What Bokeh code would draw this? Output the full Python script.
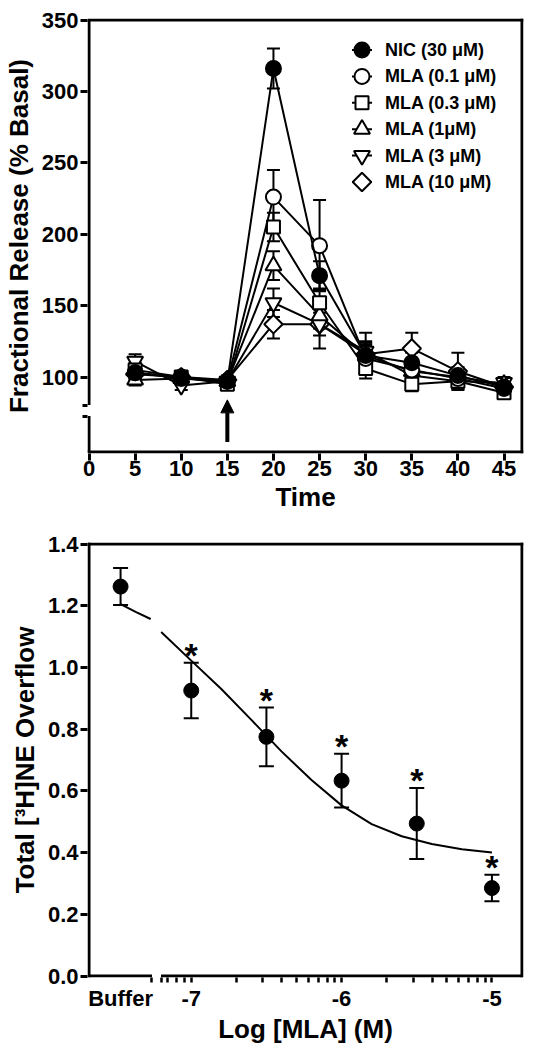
import numpy as np
from bokeh.plotting import figure
from bokeh.layouts import column
from bokeh.models import (Range1d, FixedTicker, Whisker, TeeHead, Arrow, NormalHead,
                          ColumnDataSource, NumeralTickFormatter)
from bokeh.core.properties import value
from bokeh.embed import file_html
from bokeh.resources import INLINE

FONT = "Liberation Sans"

# ---------------- top panel data ----------------
time_min = [5, 10, 15, 20, 25, 30, 35, 40, 45]
nic_30 = [103, 100, 97, 316, 171, 115, 110, 101, 93]
nic_30_err = [4, 3, 3, 14, 10, 10, 7, 6, 4]
mla_01 = [103, 99, 97, 226, 192, 113, 105, 99, 92]
mla_01_err = [4, 3, 3, 19, 32, 9, 6, 5, 4]
mla_03 = [105, 100, 95, 205, 152, 106, 95, 97, 89]
mla_03_err = [5, 4, 3, 10, 10, 7, 5, 5, 4]
mla_1 = [98, 99, 97, 178, 143, 115, 104, 100, 95]
mla_1_err = [4, 3, 3, 10, 9, 8, 5, 5, 4]
mla_3 = [111, 94, 97, 152, 137, 118, 101, 97, 96]
mla_3_err = [5, 3, 3, 10, 17, 13, 5, 5, 4]
mla_10 = [102, 100, 98, 137, 137, 116, 120, 104, 93]
mla_10_err = [4, 3, 3, 10, 8, 8, 11, 13, 4]
series_labels = ["NIC (30 μM)", "MLA (0.1 μM)", "MLA (0.3 μM)",
                 "MLA (1μM)", "MLA (3 μM)", "MLA (10 μM)"]
time_ticks = [0, 5, 10, 15, 20, 25, 30, 35, 40, 45]
release_ticks = [100, 150, 200, 250, 300, 350]
stim_time = 15

# ---------------- bottom panel data ----------------
buffer_pos = -7.47
log_mla = [-7.0, -6.5, -6.0, -5.5, -5.0]
buffer_mean = 1.262
buffer_err = 0.06
overflow_mean = [0.925, 0.775, 0.633, 0.494, 0.285]
overflow_err = [0.09, 0.095, 0.087, 0.115, 0.043]
fit_buffer_x = [-7.47, -7.37, -7.27]
fit_buffer_y = [1.205, 1.18, 1.157]
fit_x = [-7.2, -7.0, -6.8, -6.6, -6.4, -6.2, -6.0, -5.8, -5.6, -5.4, -5.2, -5.0]
fit_y = [1.115, 1.022, 0.93, 0.83, 0.728, 0.635, 0.553, 0.492, 0.453, 0.428, 0.411, 0.40]
overflow_ticks = [0.0, 0.2, 0.4, 0.6, 0.8, 1.0, 1.2, 1.4]
log_ticks = [-7, -6, -5]

FW, FH = 436, 435
LW = 3


def padded(lo, hi, px):
    s = (hi - lo) / (px - LW)
    return Range1d(lo - 1.5 * s, hi + 1.5 * s)


def style_axes(p):
    p.xgrid.visible = False
    p.ygrid.visible = False
    p.outline_line_color = None
    for ax in (p.xaxis[0], p.yaxis[0]):
        ax.axis_line_color = None
        ax.major_tick_out = 7
        ax.major_tick_in = 0
        ax.major_tick_line_width = 3
        ax.major_label_text_font = FONT
        ax.major_label_text_font_style = "bold"
        ax.major_label_text_font_size = "22px"
        ax.major_label_text_color = "black"
        ax.axis_label_text_font = FONT
        ax.axis_label_text_font_style = "bold"
        ax.axis_label_text_font_size = "26px"
        ax.axis_label_text_color = "black"
        ax.minor_tick_line_color = None
    p.xaxis[0].major_label_standoff = 0
    p.xaxis[0].axis_label_standoff = 3
    p.yaxis[0].major_label_standoff = 2
    p.yaxis[0].axis_label_standoff = 5


# ================= TOP =================
tx0, tx1 = 0, 46.95
ty0, ty1 = 47.5, 350
brk_lo, brk_hi = 72.7, 80.4

p1 = figure(frame_width=FW, frame_height=FH,
            x_range=padded(tx0, tx1, FW), y_range=padded(ty0, ty1, FH),
            output_backend="svg", toolbar_location=None,
            min_border_left=77, min_border_right=7, min_border_top=18, min_border_bottom=74,
            x_axis_label="Time", y_axis_label="Fractional Release (% Basal)")
style_axes(p1)
p1.xaxis[0].ticker = FixedTicker(ticks=time_ticks)
p1.yaxis[0].ticker = FixedTicker(ticks=release_ticks, minor_ticks=[brk_lo, brk_hi])
p1.yaxis[0].minor_tick_line_color = "black"
p1.yaxis[0].minor_tick_line_width = 3
p1.yaxis[0].minor_tick_out = 5
p1.yaxis[0].minor_tick_in = 0

# frame box with broken left axis
p1.segment(x0=[tx0, tx1, tx0], y0=[ty1, ty0, ty0], x1=[tx1, tx1, tx1], y1=[ty1, ty1, ty0],
           line_color="black", line_width=LW, line_cap="square")
p1.segment(x0=[tx0, tx0], y0=[brk_hi, ty0], x1=[tx0, tx0], y1=[ty1, brk_lo],
           line_color="black", line_width=LW, line_cap="butt")

means = [nic_30, mla_01, mla_03, mla_1, mla_3, mla_10]
errs = [nic_30_err, mla_01_err, mla_03_err, mla_1_err, mla_3_err, mla_10_err]
markers = ["circle", "circle", "square", "triangle", "inverted_triangle", "square"]
fills = ["black", "white", "white", "white", "white", "white"]
sizes = [15, 15, 13, 16, 16, 13]
angles = [0, 0, 0, 0, 0, np.pi / 4]

for i in reversed(range(6)):
    m, e = np.array(means[i]), np.array(errs[i])
    src = ColumnDataSource(dict(t=time_min, m=m, u=m + e, l=m - e))
    w = Whisker(base="t", upper="u", lower="l", source=src, line_width=2, line_color="black",
                upper_head=TeeHead(size=13, line_width=2, line_color="black"),
                lower_head=TeeHead(size=13, line_width=2, line_color="black"))
    p1.add_layout(w)
    p1.line("t", "m", source=src, line_color="black", line_width=2)
    p1.scatter("t", "m", source=src, marker=markers[i], size=sizes[i], angle=angles[i],
               fill_color=fills[i], line_color="black", line_width=2)

# legend drawn inside the frame (layout offsets in screen pixels from the box corner)
sx = (FW - LW) / (tx1 - tx0)
sy = (FH - LW) / (ty1 - ty0)
leg_mx, leg_my, leg_dy, leg_half, leg_tx = 273, 30, 26.4, 10, 296
for i in range(6):
    cy = ty1 - (leg_my + i * leg_dy) / sy
    cx = tx0 + leg_mx / sx
    p1.line([cx - leg_half / sx, cx + leg_half / sx], [cy, cy], line_color="black", line_width=2)
    p1.scatter([cx], [cy], marker=markers[i], size=sizes[i], angle=angles[i],
               fill_color=fills[i], line_color="black", line_width=2)
    p1.text([tx0 + leg_tx / sx], [cy], text=[series_labels[i]], text_align="left",
            text_baseline="middle", text_font=value(FONT), text_font_style="bold",
            text_font_size="18px", text_color="black")

p1.add_layout(Arrow(end=NormalHead(size=13, fill_color="black", line_color="black"),
                    x_start=stim_time, y_start=54.5, x_end=stim_time, y_end=84,
                    line_width=4, line_color="black"))

# ================= BOTTOM =================
bx0, bx1 = -7.68, -4.80
by0, by1 = 0.0, 1.4
gap_lo, gap_hi = -7.261, -7.201

p2 = figure(frame_width=FW, frame_height=FH,
            x_range=padded(bx0, bx1, FW), y_range=padded(by0, by1, FH),
            output_backend="svg", toolbar_location=None,
            min_border_left=77, min_border_right=7, min_border_top=15, min_border_bottom=56,
            x_axis_label="Log [MLA] (M)", y_axis_label="Total [³H]NE Overflow")
style_axes(p2)

minor = []
for dec in (-8, -7, -6):
    for k in range(2, 10):
        v = dec + np.log10(k)
        if gap_hi < v < -5:
            minor.append(float(v))
xax = p2.xaxis[0]
xax.ticker = FixedTicker(ticks=[buffer_pos] + log_ticks,
                         minor_ticks=[gap_lo, gap_hi] + [float(t) for t in log_ticks] + minor)
xax.major_label_overrides = {buffer_pos: "Buffer", -7: "-7", -6: "-6", -5: "-5"}
xax.major_tick_line_color = None
xax.major_tick_out = 0
xax.major_label_standoff = 3
xax.axis_label_standoff = 0
xax.minor_tick_line_color = "black"
xax.minor_tick_line_width = 2.5
xax.minor_tick_out = 5
xax.minor_tick_in = 0
p2.yaxis[0].ticker = FixedTicker(ticks=overflow_ticks)
p2.yaxis[0].formatter = NumeralTickFormatter(format="0.0")

p2.segment(x0=[bx0, bx1, bx0], y0=[by1, by0, by0], x1=[bx1, bx1, bx0], y1=[by1, by1, by1],
           line_color="black", line_width=LW, line_cap="square")
p2.segment(x0=[bx0, gap_hi], y0=[by0, by0], x1=[gap_lo, bx1], y1=[by0, by0],
           line_color="black", line_width=LW, line_cap="butt")

xs = [buffer_pos] + log_mla
ms = np.array([buffer_mean] + overflow_mean)
es = np.array([buffer_err] + overflow_err)
src2 = ColumnDataSource(dict(x=xs, m=ms, u=ms + es, l=ms - es))
p2.add_layout(Whisker(base="x", upper="u", lower="l", source=src2, line_width=2,
                      line_color="black",
                      upper_head=TeeHead(size=15, line_width=2, line_color="black"),
                      lower_head=TeeHead(size=15, line_width=2, line_color="black")))
p2.line(fit_buffer_x, fit_buffer_y, line_color="black", line_width=2)
p2.line(fit_x, fit_y, line_color="black", line_width=2)
p2.scatter("x", "m", source=src2, marker="circle", size=15, fill_color="black", line_color="black")

star_src = ColumnDataSource(dict(x=log_mla, y=list(np.array(overflow_mean) + np.array(overflow_err)),
                                 t=["*"] * len(log_mla)))
p2.text(x="x", y="y", text="t", source=star_src, text_align="center", text_baseline="alphabetic",
        y_offset=-8, text_font=value(FONT), text_font_style="bold", text_font_size="34px",
        text_color="black")

layout = column(p1, p2, spacing=0)
open("out.html", "w").write(file_html(layout, INLINE))
